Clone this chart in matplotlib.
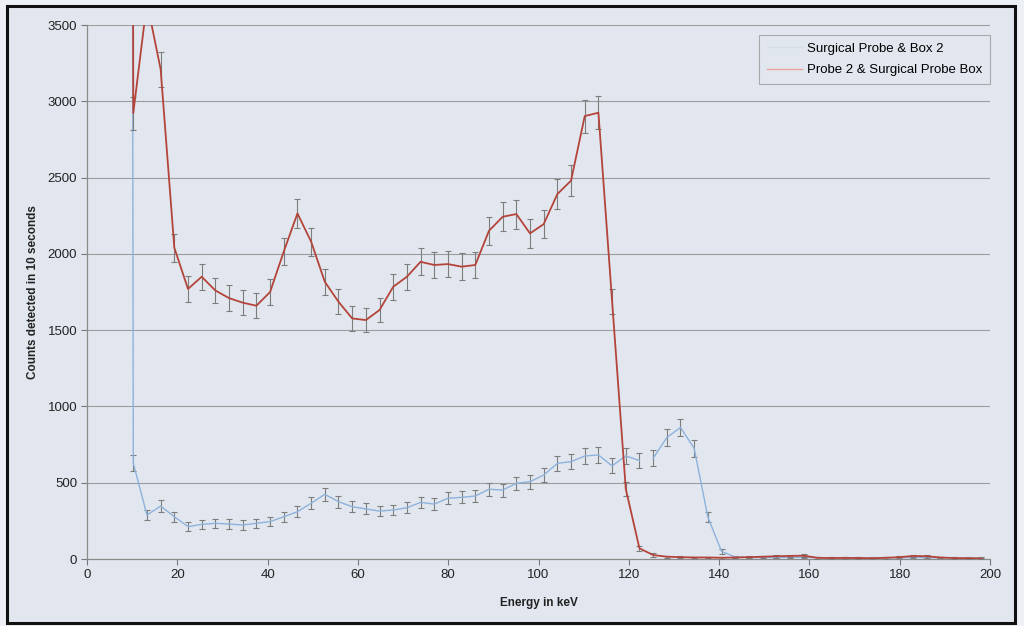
import numpy as np
import matplotlib
matplotlib.use("Agg")
import matplotlib.pyplot as plt
from matplotlib.lines import Line2D
from matplotlib.patches import Rectangle

plt.rcParams["font.family"] = ["Liberation Sans", "DejaVu Sans"]

# Channel energies (keV); the first channel sits on the noise edge and is off-scale
energy = [7.22, 10.25, 13.28, 16.31, 19.34, 22.37, 25.40, 28.43, 31.46, 34.49,
          37.52, 40.55, 43.58, 46.61, 49.64, 52.67, 55.70, 58.73, 61.76, 64.79,
          67.82, 70.85, 73.88, 76.91, 79.94, 82.97, 86.00, 89.03, 92.06, 95.09,
          98.12, 101.15, 104.18, 107.21, 110.24, 113.27, 116.30, 119.33, 122.36,
          125.39, 128.42, 131.45, 134.48, 137.51, 140.54, 143.57, 146.60, 149.63,
          152.66, 155.69, 158.72, 161.75, 164.78, 167.81, 170.84, 173.87, 176.90,
          179.93, 182.96, 185.99, 189.02, 192.05, 195.08, 198.11]

# Surgical Probe & Box 2
counts_box2 = [60000, 629, 288, 347, 277, 212, 227, 234, 229, 223,
               234, 245, 277, 310, 365, 424, 376, 343, 328, 314,
               321, 336, 371, 360, 398, 404, 413, 457, 452, 496,
               507, 550, 627, 638, 675, 682, 610, 676, 645,
               660, 796, 862, 725, 275, 50, 13, 10, 9, 11,
               10, 12, 8, 7, 9, 8, 7, 8, 9, 10,
               9, 8, 7, 6, 6]

# Probe 2 & Surgical Probe Box
counts_probe2 = [60000, 2923, 3650, 3210, 2040, 1770, 1850, 1760, 1710, 1680,
                 1660, 1750, 2015, 2265, 2080, 1817, 1686, 1577, 1566, 1632,
                 1784, 1850, 1948, 1927, 1933, 1916, 1927, 2151, 2243, 2261,
                 2134, 2195, 2392, 2480, 2903, 2925, 1690, 459, 70,
                 26, 15, 12, 10, 10, 8, 10, 12, 15, 18,
                 20, 22, 8, 6, 7, 6, 5, 8, 12, 20,
                 18, 10, 6, 5, 4]

# The Box 2 trace has a break after this many points
box2_break = 39

labels = ["Surgical Probe & Box 2", "Probe 2 & Surgical Probe Box"]
x_ticks = [0, 20, 40, 60, 80, 100, 120, 140, 160, 180, 200]
y_ticks = [0, 500, 1000, 1500, 2000, 2500, 3000, 3500]

energy = np.array(energy)
box2 = np.array(counts_box2, dtype=float)
probe2 = np.array(counts_probe2, dtype=float)
err_box2 = 2 * np.sqrt(box2)
err_probe2 = 2 * np.sqrt(probe2)

BG = "#e2e7ef"
BLUE = "#8db2dc"
RED = "#b4443a"
ERR = "#7d7d7d"

fig = plt.figure(figsize=(10.24, 6.26), dpi=100, facecolor="#edf0f4")
# outer frame of the chart sheet
fig.patches.append(Rectangle((7 / 1024, 1 - 623 / 626), (1015 - 7) / 1024, (623 - 6) / 626,
                             transform=fig.transFigure, facecolor=BG, edgecolor="#111111",
                             linewidth=2.2, zorder=-5))

ax = fig.add_axes([87 / 1024, 1 - 559 / 626, (990 - 87) / 1024, (559 - 25) / 626])
ax.set_facecolor(BG)

for y in y_ticks[1:]:
    ax.axhline(y, color="#9c9c9c", linewidth=0.8, zorder=0)

# Box 2 trace
ax.errorbar(energy, box2, yerr=err_box2, fmt="none", ecolor=ERR, elinewidth=0.8,
            capsize=2.5, capthick=0.8, zorder=2)
ax.plot(energy[:box2_break], box2[:box2_break], color=BLUE, linewidth=1.0, zorder=3)
ax.plot(energy[box2_break:], box2[box2_break:], color=BLUE, linewidth=1.0, zorder=3)

# Probe 2 trace
ax.errorbar(energy, probe2, yerr=err_probe2, fmt="none", ecolor=ERR, elinewidth=0.8,
            capsize=2.5, capthick=0.8, zorder=4)
ax.plot(energy, probe2, color=RED, linewidth=1.3, zorder=5)

ax.set_xlim(0, 200)
ax.set_ylim(0, 3500)
ax.set_xticks(x_ticks)
ax.set_yticks(y_ticks)
ax.tick_params(axis="both", direction="out", length=4, width=0.8, color="#777777",
               labelsize=9.5, labelcolor="#222222", pad=3)

for side in ("top", "right"):
    ax.spines[side].set_visible(False)
for side in ("left", "bottom"):
    ax.spines[side].set_color("#8a8a8a")
    ax.spines[side].set_linewidth(0.9)

ax.set_xlabel("Energy in keV", fontsize=8.5, fontweight="bold", color="#222222", labelpad=12)
ax.set_ylabel("Counts detected in 10 seconds", fontsize=8.5, fontweight="bold",
              color="#222222", labelpad=6)

handles = [Line2D([], [], color="#d3deea", linewidth=1.0),
           Line2D([], [], color="#e8a597", linewidth=1.0)]
leg = ax.legend(handles, labels, loc="upper right", bbox_to_anchor=(1.0, 0.982),
                fontsize=9.5, frameon=True, fancybox=False, handlelength=2.6,
                handletextpad=0.4, borderpad=0.6, labelspacing=0.7, borderaxespad=0.0)
leg.get_frame().set_facecolor(BG)
leg.get_frame().set_edgecolor("#9a9a9a")
leg.get_frame().set_linewidth(0.8)

fig.savefig("out.png", dpi=100, facecolor=fig.get_facecolor())
